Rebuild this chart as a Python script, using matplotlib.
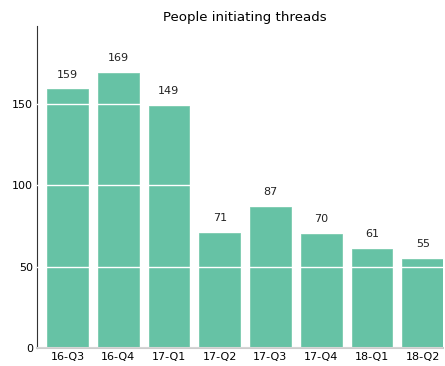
import matplotlib
matplotlib.use("Agg")
import matplotlib.pyplot as plt

quarters = ["16-Q3", "16-Q4", "17-Q1", "17-Q2", "17-Q3", "17-Q4", "18-Q1", "18-Q2"]
people = [159, 169, 149, 71, 87, 70, 61, 55]

fig = plt.figure(figsize=(4.45, 3.66), dpi=100)
ax = fig.add_axes([37 / 445, 18 / 366, 406 / 445, 322 / 366])

x = range(len(quarters))
ax.bar(x, people, width=0.8, color="#66c2a5", edgecolor="#7ccbaf", linewidth=0.6, zorder=1)

# value labels above each bar
for i, v in enumerate(people):
    ax.text(i, v + 6, str(v), ha="center", va="bottom", fontsize=8, color="#222222")

ax.set_xlim(-0.6, 7.4)
ax.set_ylim(0, 198)
ax.set_yticks([0, 50, 100, 150])
ax.set_xticks(list(x))
ax.set_xticklabels(quarters)
ax.tick_params(axis="both", length=0, labelsize=8, pad=3)

# white grid drawn over the bars
ax.yaxis.grid(True, color="white", linewidth=1, zorder=3)
ax.set_axisbelow(False)

for side in ["top", "right"]:
    ax.spines[side].set_visible(False)
ax.spines["left"].set_color("#333333")
ax.spines["bottom"].set_color("#cccccc")
ax.spines["bottom"].set_linewidth(1.5)

fig.text(245 / 445, 1 - 17 / 366, "People initiating threads", fontsize=9.6,
         ha="center", va="center")

fig.savefig("out.png", dpi=100)
